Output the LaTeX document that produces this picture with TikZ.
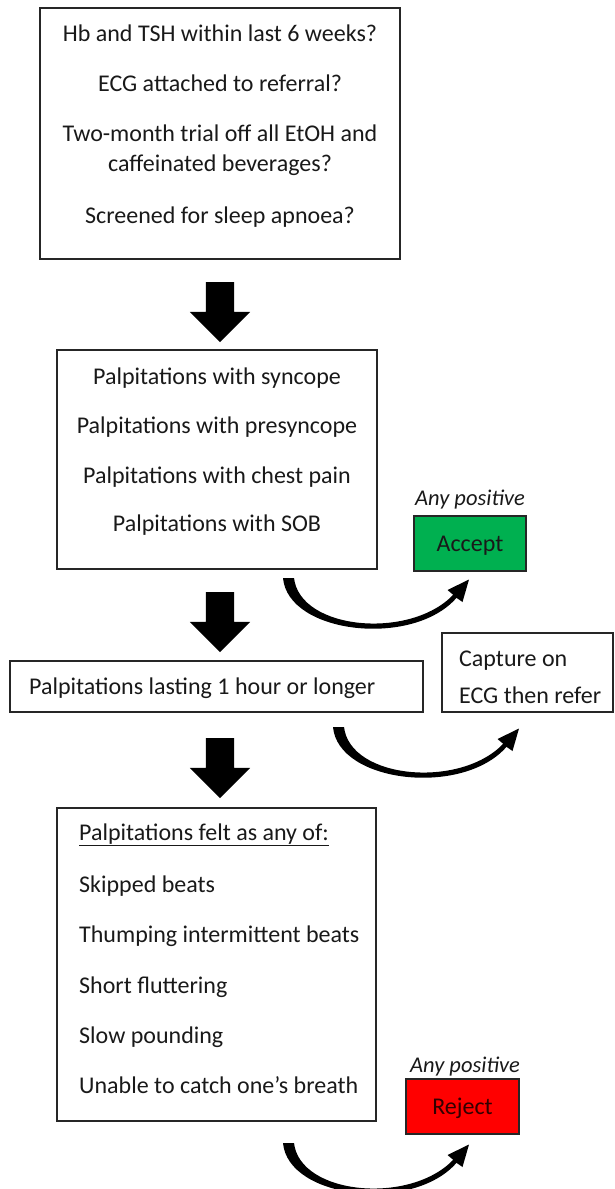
\documentclass[tikz,border=0pt]{standalone}
\usepackage{fontspec}
\setmainfont{Carlito}
\usetikzlibrary{shapes.arrows}
\definecolor{acceptgreen}{HTML}{00B050}
\definecolor{rejectred}{HTML}{FF0000}
\tikzset{
  box/.style={draw=black!85, line width=1.6pt, rectangle, inner sep=0pt},
  txt/.style={anchor=base, inner sep=0pt, font=\fontsize{24}{29}\selectfont, text=black!90},
  ltxt/.style={txt, anchor=base west},
  itxt/.style={txt, font=\fontsize{22.5}{27}\selectfont\itshape},
  blockarrow/.style={single arrow, fill=black, draw=none, rotate=-90, inner sep=14pt,
    minimum height=60pt, single arrow head extend=16pt},
  curvearrow/.pic={\fill[black] (0,0) .. controls (5,56) and (130,70) .. (173.5,19.8)
    -- (179.5,24) -- (186,1.5) -- (164.5,12) -- (170.2,16.8)
    .. controls (127,62) and (17,52) .. (11,0) -- cycle;}
}
\begin{document}
\begin{tikzpicture}[x=1pt,y=-1pt]
\useasboundingbox (0,0) rectangle (615,1189);
% box 1
\node[box, minimum width=360pt, minimum height=251pt] (b1) at (220,133.5) {};
\node[txt] (t1a) at (220,41) {Hb and TSH within last 6 weeks?};
\node[txt] (t1b) at (220,91) {ECG attached to referral?};
\node[txt] (t1c) at (220,141) {Two-month trial off all EtOH and};
\node[txt] (t1d) at (220,171) {caffeinated beverages?};
\node[txt] (t1e) at (220,223) {Screened for sleep apnoea?};
\node[blockarrow] (a1) at (220,305) {};
% box 2
\node[box, minimum width=320pt, minimum height=219pt] (b2) at (217,459.5) {};
\node[txt] (t2a) at (217,384) {Palpitations with syncope};
\node[txt] (t2b) at (217,433) {Palpitations with presyncope};
\node[txt] (t2c) at (217,483) {Palpitations with chest pain};
\node[txt] (t2d) at (217,531) {Palpitations with SOB};
\node[itxt] (ap1) at (470,505) {Any positive};
\node[box, fill=acceptgreen, minimum width=112pt, minimum height=55pt] (acc) at (470,543.5) {};
\node[txt] (acct) at (470,551) {Accept};
\coordinate (c1) at (283,578);
\pic at (c1) {curvearrow};
\node[blockarrow] (a2) at (220,615) {};
% box 3
\node[box, minimum width=413pt, minimum height=51pt] (b3) at (216.5,686.5) {};
\node[ltxt] (t3) at (29,694) {Palpitations lasting 1 hour or longer};
\node[box, minimum width=171pt, minimum height=79pt] (cap) at (527.5,672.5) {};
\node[ltxt] (capa) at (459,666) {Capture on};
\node[ltxt] (capb) at (459,703) {ECG then refer};
\coordinate (c2) at (333,727);
\pic at (c2) {curvearrow};
\node[blockarrow] (a3) at (220,761) {};
% box 4
\node[box, minimum width=319pt, minimum height=313pt] (b4) at (216.5,964.5) {};
\node[ltxt] (t4a) at (79,840) {\underline{Palpitations felt as any of:}};
\node[ltxt] (t4b) at (79,892) {Skipped beats};
\node[ltxt] (t4c) at (79,942) {Thumping intermittent beats};
\node[ltxt] (t4d) at (79,993) {Short fluttering};
\node[ltxt] (t4e) at (79,1043) {Slow pounding};
\node[ltxt] (t4f) at (79,1093) {Unable to catch one’s breath};
\node[itxt] (ap2) at (465,1072) {Any positive};
\node[box, fill=rejectred, minimum width=113pt, minimum height=55pt] (rej) at (462.5,1106.5) {};
\node[txt, text=black!80!red] (rejt) at (462.5,1114) {Reject};
\coordinate (c3) at (283,1143);
\pic at (c3) {curvearrow};
\end{tikzpicture}
\end{document}
